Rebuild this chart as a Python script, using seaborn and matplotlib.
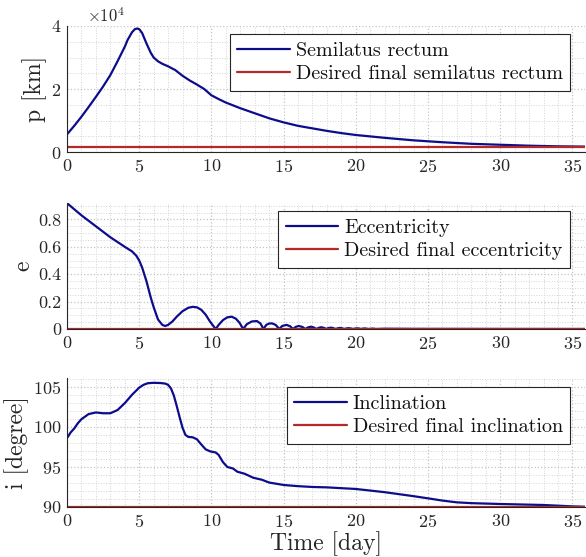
import matplotlib
matplotlib.use("Agg")
import matplotlib.pyplot as plt
import seaborn as sns
import pandas as pd
from matplotlib.ticker import MultipleLocator, ScalarFormatter

# ---------------- data ----------------
t_p = [0, 0.5, 1, 1.5, 2, 2.5, 3, 3.5, 4, 4.2, 4.5, 4.7, 4.85, 5.0, 5.2, 5.5, 5.8, 6.0,
       6.3, 6.6, 7, 7.5, 8, 8.5, 9, 9.5, 10, 10.5, 11, 12, 13, 14, 15, 16, 17, 18, 19,
       20, 22, 24, 26, 28, 30, 32, 34, 36]
p_km = [5600, 8300, 11200, 14300, 17500, 20800, 24400, 28800, 33400, 35600, 38000,
        39000, 39200, 39000, 37800, 34500, 31500, 30000, 28800, 28000, 27200, 26000,
        24200, 22700, 21400, 20000, 18000, 16800, 15700, 13900, 12300, 10700, 9400,
        8300, 7500, 6700, 6000, 5400, 4500, 3700, 3100, 2600, 2300, 2000, 1800, 1700]
p_final = 1700

t_e = [0, 1, 2, 3, 4, 4.5, 4.8, 5.0, 5.2, 5.5, 5.8, 6.0, 6.3, 6.6, 6.8, 7.0, 7.3, 7.6,
       8.0, 8.4, 8.7, 9.0, 9.3, 9.6, 9.9, 10.15, 10.3, 10.5, 10.8, 11.1, 11.4, 11.7,
       11.95, 12.2, 12.45, 12.8, 13.15, 13.4, 13.6, 13.8, 14.0, 14.2, 14.45, 14.7,
       14.9, 15.2, 15.45, 15.65, 15.85, 16.05, 16.3, 16.5, 16.7, 16.9, 17.1, 17.25,
       17.45, 17.6, 17.8, 17.95, 18.1, 18.3, 18.45, 18.6, 18.75, 18.9, 19.05, 19.2,
       19.35, 19.5, 19.65, 19.8, 19.95, 20.1, 20.25, 20.35, 20.5, 20.65, 20.75, 20.9,
       21.15, 21.4, 22, 24, 36]
e_val = [0.919, 0.83, 0.75, 0.67, 0.60, 0.567, 0.535, 0.50, 0.45, 0.35, 0.23, 0.16,
         0.07, 0.03, 0.022, 0.03, 0.055, 0.09, 0.13, 0.155, 0.162, 0.158, 0.14, 0.105,
         0.055, 0.02, 0.0, 0.03, 0.065, 0.085, 0.09, 0.075, 0.045, 0.0, 0.035, 0.055,
         0.058, 0.04, 0.0, 0.03, 0.04, 0.041, 0.03, 0.0, 0.022, 0.03, 0.02, 0.0, 0.016,
         0.022, 0.015, 0.0, 0.012, 0.017, 0.011, 0.0, 0.009, 0.013, 0.008, 0.0, 0.007,
         0.010, 0.006, 0.0, 0.005, 0.008, 0.005, 0.0, 0.004, 0.006, 0.004, 0.0, 0.003,
         0.005, 0.003, 0.0, 0.003, 0.004, 0.002, 0.0, 0.003, 0.0, 0.002, 0.001, 0.0]
e_final = 0.0

t_i = [0, 0.25, 0.5, 0.75, 1, 1.5, 2, 2.5, 3, 3.5, 4, 4.5, 5, 5.3, 5.6, 6, 6.5, 6.8, 7.0,
       7.2, 7.4, 7.6, 7.8, 8.0, 8.2, 8.4, 8.7, 9.0, 9.3, 9.6, 9.9, 10.3, 10.5, 10.8,
       11.1, 11.5, 11.8, 12.0, 12.3, 12.6, 12.9, 13.5, 14, 15, 16, 17, 18, 19, 20, 21,
       22, 23, 24, 25, 26, 27, 28, 30, 33, 35, 36]
i_deg = [98.6, 99.3, 99.8, 100.45, 100.96, 101.6, 101.8, 101.7, 101.7, 102.1, 102.96,
         104.0, 104.9, 105.25, 105.45, 105.5, 105.47, 105.4, 105.25, 104.8, 103.9,
         102.6, 101.2, 99.9, 99.0, 98.75, 98.7, 98.45, 97.8, 97.2, 96.95, 96.8, 96.5,
         95.6, 95.0, 94.8, 94.4, 94.3, 94.15, 93.9, 93.65, 93.4, 93.05, 92.75, 92.6,
         92.5, 92.45, 92.35, 92.25, 92.05, 91.85, 91.6, 91.35, 91.08, 90.8, 90.58,
         90.48, 90.375, 90.25, 90.08, 90.02]
i_final = 90.0

labels_p = ["Semilatus rectum", "Desired final semilatus rectum"]
labels_e = ["Eccentricity", "Desired final eccentricity"]
labels_i = ["Inclination", "Desired final inclination"]

# ---------------- style ----------------
sns.set_style("white")
plt.rcParams["font.family"] = ["cmr10", "DejaVu Serif"]
plt.rcParams["mathtext.fontset"] = "cm"
plt.rcParams["axes.formatter.use_mathtext"] = True
plt.rcParams["axes.unicode_minus"] = False

BLUE = "#0d0d8c"
RED = "#b32a2a"
SPINE = "#262626"

fig = plt.figure(figsize=(5.86, 5.57), dpi=100)
L = 67 / 586
W = 1.0 - L - 0.001
axes_px = [(26, 152), (203, 329), (378, 507)]
axs = []
for top, bot in axes_px:
    axs.append(fig.add_axes([L, 1 - bot / 557, W, (bot - top) / 557]))


def draw(ax, t, y, final, labels, ylim, major, minor, ylabel, legend_top):
    df = pd.DataFrame({"t": t, "y": y})
    sns.lineplot(data=df, x="t", y="y", ax=ax, color=BLUE, lw=1.6, label=labels[0],
                 estimator=None, sort=False)
    df2 = pd.DataFrame({"t": [0, 36.5], "y": [final, final]})
    sns.lineplot(data=df2, x="t", y="y", ax=ax, color=RED, lw=1.6, label=labels[1],
                 estimator=None)
    ax.set_xlim(0, 35.9)
    ax.set_ylim(*ylim)
    ax.xaxis.set_major_locator(MultipleLocator(5))
    ax.xaxis.set_minor_locator(MultipleLocator(1))
    ax.yaxis.set_major_locator(MultipleLocator(major))
    ax.yaxis.set_minor_locator(MultipleLocator(minor))
    ax.grid(True, which="major", color="#c4c4c4", ls=":", lw=0.9)
    ax.grid(True, which="minor", color="#d4d4d4", ls=":", lw=0.7)
    ax.set_axisbelow(True)
    for s in ["top", "right"]:
        ax.spines[s].set_visible(False)
    for s in ["left", "bottom"]:
        ax.spines[s].set_color(SPINE)
        ax.spines[s].set_linewidth(0.8)
    ax.tick_params(which="major", direction="in", length=4, width=0.6, colors=SPINE,
                   labelsize=13, labelcolor="#262626", pad=4)
    ax.tick_params(which="minor", length=0)
    ax.set_xlabel("")
    ax.set_ylabel(ylabel, fontsize=17, color="#262626", labelpad=3)
    leg = ax.legend(loc="upper right", bbox_to_anchor=(1 - 15 / 519, legend_top),
                    fontsize=14.5, frameon=True, fancybox=False, framealpha=1,
                    edgecolor=SPINE, handlelength=2.6, handletextpad=0.3,
                    borderpad=0.38, labelspacing=0.28, borderaxespad=0)
    leg.get_frame().set_linewidth(0.8)
    for txt in leg.get_texts():
        txt.set_color("#111111")
    return ax


ax1 = draw(axs[0], t_p, p_km, p_final, labels_p, (0, 40000), 20000, 5000,
           "p [km]", 1 - 8 / 126)
fmt = ScalarFormatter(useMathText=True)
fmt.set_powerlimits((0, 0))
ax1.yaxis.set_major_formatter(fmt)
ax1.yaxis.get_offset_text().set_fontsize(12)
ax1.yaxis.get_offset_text().set_x(20 / 519)

ax2 = draw(axs[1], t_e, e_val, e_final, labels_e, (0, 0.92), 0.2, 0.05,
           "e", 1 - 8 / 126)
ax2.yaxis.set_major_formatter(plt.FuncFormatter(lambda v, _: "0" if abs(v) < 1e-9 else f"{v:.1f}"))

ax3 = draw(axs[2], t_i, i_deg, i_final, labels_i, (90, 106.1), 5, 1,
           "i [degree]", 1 - 9 / 129)
ax3.set_xlabel("Time [day]", fontsize=17, color="#262626", labelpad=1)

fig.savefig("out.png", dpi=100)
